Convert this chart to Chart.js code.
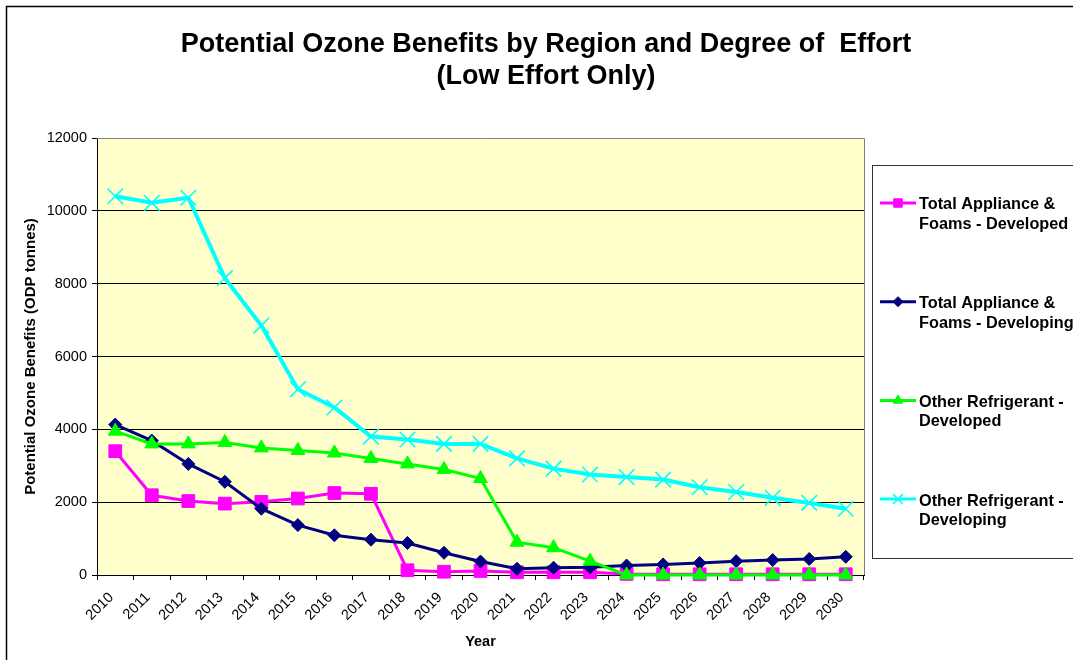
<!DOCTYPE html>
<html>
<head>
<meta charset="utf-8">
<title>Potential Ozone Benefits</title>
<script src="https://cdn.jsdelivr.net/npm/chart.js@4.4.1/dist/chart.umd.min.js"></script>
<style>
    html, body { margin: 0; padding: 0; background: #fff; }
    #wrap { width: 1073px; height: 660px; position: relative; }
</style>
</head>
<body>
<div id="wrap"><canvas id="ozoneChart" width="1073" height="660"></canvas></div>
<script>
const years = ['2010', '2011', '2012', '2013', '2014', '2015', '2016', '2017', '2018', '2019', '2020',
    '2021', '2022', '2023', '2024', '2025', '2026', '2027', '2028', '2029', '2030'];

const appliancesDeveloped = [3400, 2190, 2030, 1960, 2010, 2100, 2250, 2230, 130, 90, 110,
    75, 75, 75, 30, 20, 20, 20, 20, 20, 20];
const appliancesDeveloping = [4130, 3690, 3050, 2560, 1820, 1370, 1090, 970, 880, 610, 370,
    170, 200, 210, 260, 290, 330, 380, 410, 440, 500];
const refrigerantDeveloped = [3950, 3600, 3600, 3640, 3490, 3420, 3350, 3200, 3050, 2900, 2650,
    900, 750, 380, 0, 0, 0, 0, 0, 0, 0];
const refrigerantDeveloping = [10400, 10220, 10360, 8150, 6850, 5100, 4600, 3800, 3720, 3600, 3600,
    3200, 2920, 2760, 2690, 2620, 2410, 2280, 2120, 1980, 1820];

const seriesNames = [
    ['Total Appliance &', 'Foams - Developed'],
    ['Total Appliance &', 'Foams - Developing'],
    ['Other Refrigerant -', 'Developed'],
    ['Other Refrigerant -', 'Developing']
];
const yTicks = [0, 2000, 4000, 6000, 8000, 10000, 12000];
const chartTitle = ['Potential Ozone Benefits by Region and Degree of  Effort', '(Low Effort Only)'];

const FONT = '"Liberation Sans", Arial, sans-serif';

// plot background + grey top/right border
const plotFrame = {
    id: 'plotFrame',
    beforeDraw(chart) {
        const { ctx, chartArea: a } = chart;
        ctx.save();
        ctx.fillStyle = '#FFFFCC';
        ctx.fillRect(a.left, a.top, a.right - a.left, a.bottom - a.top);
        ctx.restore();
    },
    afterDraw(chart) {
        const { ctx, chartArea: a } = chart;
        ctx.save();
        ctx.strokeStyle = '#808080';
        ctx.lineWidth = 1;
        ctx.beginPath();
        ctx.moveTo(a.left, Math.round(a.top) + 0.5);
        ctx.lineTo(Math.round(a.right) + 0.5, Math.round(a.top) + 0.5);
        ctx.lineTo(Math.round(a.right) + 0.5, a.bottom);
        ctx.stroke();

        // outer chart frame
        ctx.strokeStyle = '#000';
        ctx.lineWidth = 1.5;
        ctx.strokeRect(6.5, 6.5, 1080, 670);

        // title
        ctx.fillStyle = '#000';
        ctx.font = 'bold 27px ' + FONT;
        ctx.textAlign = 'center';
        ctx.textBaseline = 'middle';
        ctx.fillText(chartTitle[0], 546, 45);
        ctx.fillText(chartTitle[1], 546, 77);
        ctx.restore();
    }
};

// legend drawn in a box at the right, like the original
const sideLegend = {
    id: 'sideLegend',
    afterDraw(chart) {
        const ctx = chart.ctx;
        ctx.save();
        ctx.fillStyle = '#fff';
        ctx.fillRect(872.5, 165.5, 210, 393);
        ctx.strokeStyle = '#333';
        ctx.lineWidth = 1;
        ctx.strokeRect(872.5, 165.5, 210, 393);

        chart.data.datasets.forEach((ds, i) => {
            const y = 203 + i * 98.7;
            ctx.strokeStyle = ds.borderColor;
            ctx.lineWidth = 3;
            ctx.beginPath();
            ctx.moveTo(880, y);
            ctx.lineTo(916, y);
            ctx.stroke();

            ctx.fillStyle = ds.pointBackgroundColor;
            ctx.strokeStyle = ds.pointBorderColor;
            ctx.lineWidth = ds.pointBorderWidth;
            Chart.helpers.drawPoint(ctx, {
                pointStyle: ds.pointStyle,
                radius: ds.legendRadius,
                rotation: 0,
                borderWidth: ds.pointBorderWidth
            }, 898, y);

            ctx.fillStyle = '#000';
            ctx.font = 'bold 16.3px ' + FONT;
            ctx.textAlign = 'left';
            ctx.textBaseline = 'middle';
            seriesNames[i].forEach((line, j) => {
                ctx.fillText(line, 919, y + 2 + j * 19.5);
            });
        });
        ctx.restore();
    }
};

const ctx = document.getElementById('ozoneChart').getContext('2d');

new Chart(ctx, {
    type: 'line',
    data: {
        labels: years,
        datasets: [{
            label: seriesNames[0].join(' '),
            data: appliancesDeveloped,
            borderColor: '#FF00FF',
            borderWidth: 3,
            pointStyle: 'rect',
            pointRadius: 9,
            pointBackgroundColor: '#FF00FF',
            pointBorderColor: '#FF00FF',
            pointBorderWidth: 1,
            legendRadius: 6,
            order: 4
        }, {
            label: seriesNames[1].join(' '),
            data: appliancesDeveloping,
            borderColor: '#000080',
            borderWidth: 3,
            pointStyle: 'rectRot',
            pointRadius: 6.5,
            pointBackgroundColor: '#000080',
            pointBorderColor: '#000080',
            pointBorderWidth: 1,
            legendRadius: 5,
            order: 3
        }, {
            label: seriesNames[2].join(' '),
            data: refrigerantDeveloped,
            borderColor: '#00FF00',
            borderWidth: 3,
            pointStyle: 'triangle',
            pointRadius: 8,
            pointBackgroundColor: '#00FF00',
            pointBorderColor: '#00FF00',
            pointBorderWidth: 1,
            legendRadius: 5.5,
            order: 2
        }, {
            label: seriesNames[3].join(' '),
            data: refrigerantDeveloping,
            borderColor: '#00FFFF',
            borderWidth: 4,
            pointStyle: 'crossRot',
            pointRadius: 11,
            pointBackgroundColor: '#00FFFF',
            pointBorderColor: '#00FFFF',
            pointBorderWidth: 1.6,
            legendRadius: 7,
            order: 1
        }]
    },
    options: {
        responsive: false,
        animation: false,
        layout: { padding: { top: 138, right: 209, left: 0, bottom: 0 } },
        elements: { line: { tension: 0 } },
        datasets: { line: { clip: false } },
        plugins: {
            legend: { display: false },
            title: { display: false },
            tooltip: { enabled: false }
        },
        scales: {
            x: {
                type: 'category',
                offset: true,
                afterFit: s => { s.height = 85; },
                grid: {
                    offset: true,
                    drawOnChartArea: false,
                    tickLength: 5,
                    color: '#000'
                },
                border: { color: '#000', width: 1 },
                ticks: {
                    autoSkip: false,
                    minRotation: 45,
                    maxRotation: 45,
                    padding: 9,
                    labelOffset: -4,
                    color: '#000',
                    font: { family: FONT, size: 14.5 }
                },
                title: {
                    display: true,
                    text: 'Year',
                    color: '#000',
                    font: { family: FONT, size: 14.5, weight: 'bold' },
                    padding: { top: 0, bottom: 9 }
                }
            },
            y: {
                min: yTicks[0],
                max: yTicks[yTicks.length - 1],
                afterFit: s => { s.width = 97; },
                afterBuildTicks: s => { s.ticks = yTicks.map(v => ({ value: v })); },
                grid: {
                    color: c => (c.tick && c.tick.value === 12000) ? 'rgba(0,0,0,0)' : '#000',
                    tickColor: '#000',
                    tickLength: 5,
                    lineWidth: 1
                },
                border: { color: '#000', width: 1 },
                ticks: {
                    padding: 5,
                    color: '#000',
                    font: { family: FONT, size: 14.5 },
                    callback: v => String(v)
                },
                title: {
                    display: true,
                    text: 'Potential Ozone Benefits (ODP tonnes)',
                    color: '#000',
                    font: { family: FONT, size: 15, weight: 'bold' },
                    padding: { top: 22, bottom: 0 }
                }
            }
        }
    },
    plugins: [plotFrame, sideLegend]
});
</script>
</body>
</html>
